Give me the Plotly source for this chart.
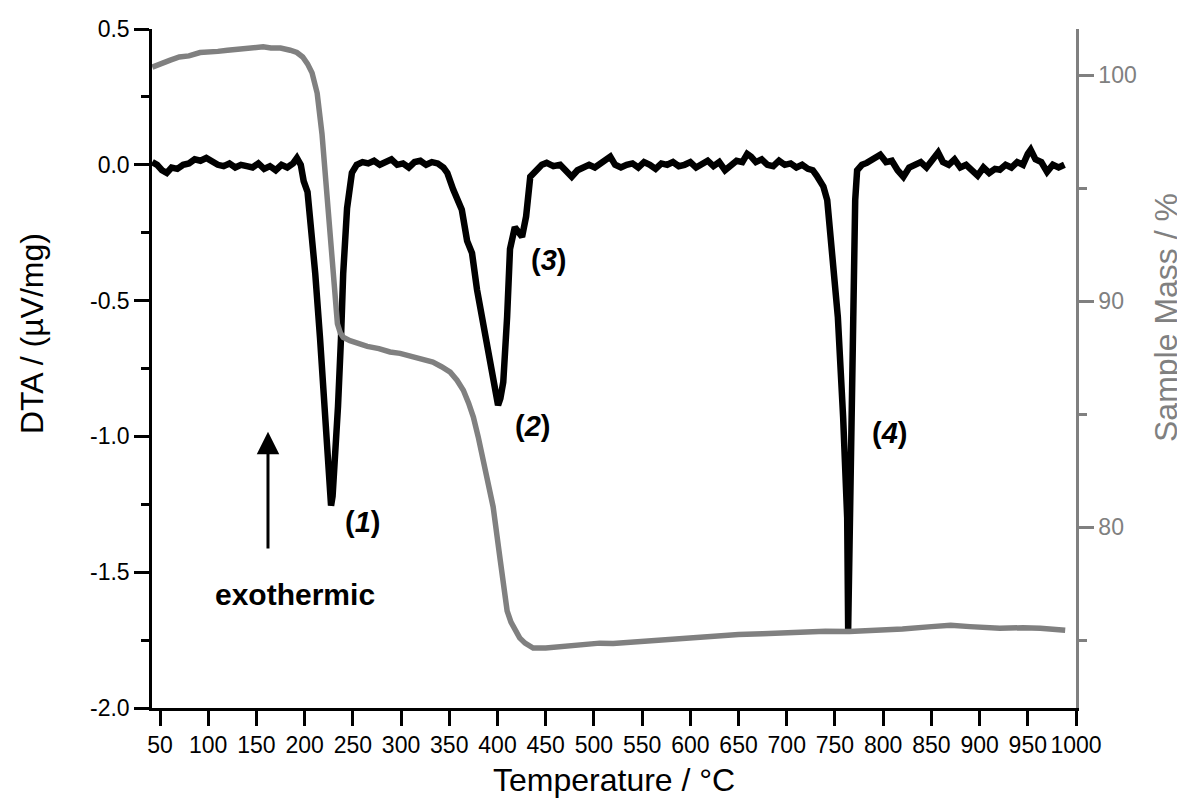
import plotly.graph_objects as go

# ---- DTA curve (black) ----
dta_temp = [42, 47, 52, 57, 62, 68, 74, 80, 86, 92, 98, 104, 110, 116, 122, 128, 134, 140, 146, 152,
            158, 164, 170, 176, 182, 188, 192, 196, 199, 203, 206, 211, 216, 221, 224, 226, 227.4, 229,
            231.5, 234.6, 237.7, 240, 244, 249, 254, 260, 266, 272, 278, 284, 290, 296, 302, 308, 314,
            320, 326, 332, 338, 344, 348, 354, 358, 363, 368.5, 373.6, 378.8, 387, 394, 398, 400.6, 403,
            406, 410, 413, 418, 422, 425.5, 429.7, 432, 434, 441, 446, 451, 458, 465, 471, 477, 483, 489,
            495, 501, 507, 513, 517, 522, 528, 534, 540, 546, 552, 558, 564, 570, 576, 582, 588, 594,
            600, 606, 612, 618, 624, 630, 636, 642, 648, 654, 659, 663, 668, 674, 680, 686, 692, 698,
            704, 710, 716, 722, 727, 731, 734.6, 738, 742, 747, 753, 758.5, 762.7, 763.7, 765.8, 768,
            769, 771, 773, 778, 783, 790, 797, 803, 809, 815, 821, 827, 833, 839, 845, 852, 857, 862,
            868, 874, 880, 886, 892, 898, 904, 910, 916, 921, 927, 933, 939, 945, 950, 953, 958, 964,
            970, 976, 982, 988]
dta_value = [0.01, 0.0, -0.02, -0.03, -0.01, -0.015, 0.0, 0.005, 0.02, 0.015, 0.025, 0.01, 0.0, -0.005,
             0.005, -0.01, 0.0, -0.005, -0.01, 0.005, -0.015, -0.005, -0.02, 0.0, -0.01, 0.005, 0.025,
             0.0, -0.06, -0.1, -0.21, -0.40, -0.64, -0.89, -1.10, -1.21, -1.255, -1.22, -1.10, -0.89, -0.64,
             -0.40, -0.16, -0.03, 0.0, 0.01, 0.005, 0.015, 0.0, 0.01, 0.02, 0.0, 0.005, -0.01, 0.01,
             0.015, 0.0, 0.01, 0.005, -0.01, -0.03, -0.09, -0.12, -0.165, -0.28, -0.325, -0.46, -0.62,
             -0.74, -0.84, -0.885, -0.86, -0.80, -0.56, -0.31, -0.23, -0.245, -0.265, -0.19, -0.1,
             -0.044, -0.018, 0.0, 0.007, -0.005, 0.0, -0.02, -0.044, -0.02, -0.01, 0.0, -0.01, 0.005,
             0.015, 0.03, 0.0, -0.01, 0.0, 0.005, -0.01, 0.01, 0.0, -0.015, 0.005, 0.0, 0.01, -0.005,
             0.0, 0.01, -0.01, 0.0, 0.015, -0.005, 0.01, -0.02, 0.0, 0.015, 0.01, 0.04, 0.03, 0.01,
             0.02, 0.0, -0.005, 0.015, 0.0, 0.005, -0.01, 0.0, -0.015, -0.02, -0.04, -0.066, -0.08,
             -0.13, -0.31, -0.56, -0.93, -1.30, -1.71, -1.30, -0.93, -0.44, -0.13, -0.02, 0.0, 0.007,
             0.02, 0.037, 0.01, 0.015, -0.02, -0.044, -0.01, 0.0, 0.01, -0.01, 0.018, 0.045, 0.01, 0.0,
             0.02, -0.01, 0.0, -0.02, -0.04, -0.01, -0.03, -0.015, -0.018, 0.0, -0.01, 0.01, 0.0, 0.04,
             0.055, 0.02, 0.01, -0.026, 0.0, -0.01, 0.0]

# ---- Sample mass curve (grey) ----
mass_temp = [42, 50, 60, 70, 80, 91.5, 100, 110, 120, 130, 140, 150, 157, 165, 175, 185, 192, 198, 203,
             207.7, 213, 218, 222, 226.5, 231, 234, 237, 240, 247, 254, 265, 277, 288.6, 299, 310, 320,
             333, 342, 351, 358, 364.6, 370, 375, 380, 385, 390, 395.5, 403, 407, 410, 414, 418, 423,
             428.6, 437, 450, 460, 472, 490, 506, 520, 537.6, 555, 575, 590, 610, 630, 650, 675, 700,
             714, 740, 765, 790, 820, 850, 870, 890, 921, 945, 963, 988.8]
mass_value = [100.35, 100.5, 100.65, 100.8, 100.85, 101.0, 101.0, 101.05, 101.1, 101.15, 101.2, 101.2,
              101.25, 101.2, 101.2, 101.1, 101.0, 100.8, 100.5, 100.1, 99.2, 97.4, 95.2, 93.4, 90.6,
              89.0, 88.6, 88.4, 88.25, 88.14, 88.0, 87.9, 87.75, 87.69, 87.55, 87.42, 87.3, 87.1, 86.86,
              86.5, 86.06, 85.5, 84.87, 84.0, 82.96, 81.9, 80.9, 78.5, 77.1, 76.3, 75.8, 75.44, 75.1,
              74.87, 74.65, 74.65, 74.7, 74.7, 74.8, 74.87, 74.85, 74.9, 74.95, 75.05, 75.1, 75.13,
              75.2, 75.25, 75.28, 75.33, 75.35, 75.4, 75.38, 75.42, 75.5, 75.6, 75.66, 75.6, 75.53,
              75.55, 75.53, 75.44]

x_ticks = list(range(50, 1001, 50))
y_ticks = [-2.0, -1.5, -1.0, -0.5, 0.0, 0.5]
y_ticktext = ["-2.0", "-1.5", "-1.0", "-0.5", "0.0", "0.5"]
y_minor = [-1.75, -1.25, -0.75, -0.25, 0.25]
y2_ticks = [80, 90, 100]
y2_minor = [75, 85, 95]

peak_labels = ["<b>(<i>1</i>)</b>", "<b>(<i>2</i>)</b>", "<b>(<i>3</i>)</b>", "<b>(<i>4</i>)</b>"]
peak_label_x = [259.5, 436, 452.5, 807]
peak_label_y = [-1.315, -0.96, -0.35, -0.987]

FONT = "Liberation Sans, Arial, sans-serif"
GREY = "#808080"
TICK = 23

fig = go.Figure()
fig.add_trace(go.Scatter(x=dta_temp, y=dta_value, mode="lines",
                         line=dict(color="black", width=6.5), yaxis="y", showlegend=False))
fig.add_trace(go.Scatter(x=mass_temp, y=mass_value, mode="lines",
                         line=dict(color=GREY, width=5.5), yaxis="y2", showlegend=False))

# The page body has an 8px margin, so the figure is placed at (8, 8).
OFF = 8
W, H = 1185 - OFF, 799 - OFF
# target plot area in page pixels: x 152..1076, y 29..708
L, T = 152 - OFF, 29 - OFF
pw, ph = 1076 - 152, 708 - 29
R = W - L - pw
B = H - T - ph

def px(xp):
    return (xp - 152) / pw

def py(yp):
    return (708 - yp) / ph

annotations = []
for txt, xx, yy in zip(peak_labels, peak_label_x, peak_label_y):
    annotations.append(dict(x=xx, y=yy, xref="x", yref="y", text=txt, showarrow=False,
                            font=dict(family=FONT, size=29, color="black")))
annotations.append(dict(x=190, y=-1.583, xref="x", yref="y", text="<b>exothermic</b>", showarrow=False,
                        font=dict(family=FONT, size=30, color="black")))
annotations.append(dict(x=162, y=-0.983, ax=162, ay=-1.418, xref="x", yref="y", axref="x", ayref="y",
                        text="", showarrow=True, arrowhead=2, arrowsize=1.5, arrowwidth=3,
                        arrowcolor="black", standoff=0))
annotations.append(dict(x=px(32), y=py(334), xref="paper", yref="paper", text="DTA / (µV/mg)",
                        textangle=-90, showarrow=False, xanchor="center", yanchor="middle",
                        font=dict(family=FONT, size=32, color="black")))
annotations.append(dict(x=px(1166), y=py(318), xref="paper", yref="paper", text="Sample Mass / %",
                        textangle=-90, showarrow=False, xanchor="center", yanchor="middle",
                        font=dict(family=FONT, size=32, color=GREY)))
annotations.append(dict(x=px(614), y=py(780), xref="paper", yref="paper", text="Temperature / °C",
                        showarrow=False, xanchor="center", yanchor="middle",
                        font=dict(family=FONT, size=32, color="black")))

fig.update_layout(
    width=W, height=H,
    margin=dict(l=L, r=R, t=T, b=B, pad=0, autoexpand=False),
    paper_bgcolor="white", plot_bgcolor="white",
    font=dict(family=FONT, size=TICK, color="black"),
    xaxis=dict(range=[41.7, 1000], tickmode="array", tickvals=x_ticks, tickangle=0, automargin=False,
               ticks="outside", ticklen=15, tickwidth=2.5, tickcolor="black",
               showline=True, linewidth=2.5, linecolor="black", showgrid=False, zeroline=False,
               tickfont=dict(family=FONT, size=TICK, color="black")),
    yaxis=dict(range=[-2.0, 0.5], tickmode="array", tickvals=y_ticks, ticktext=y_ticktext,
               automargin=False,
               ticks="outside", ticklen=15, tickwidth=2.5, tickcolor="black",
               minor=dict(tickmode="array", tickvals=y_minor, ticks="outside", ticklen=8,
                          tickwidth=2.5, tickcolor="black", showgrid=False),
               showline=True, linewidth=2.5, linecolor="black", showgrid=False, zeroline=False,
               tickfont=dict(family=FONT, size=TICK, color="black")),
    yaxis2=dict(range=[72, 102.04], overlaying="y", side="right", anchor="x", automargin=False,
                tickmode="array", tickvals=y2_ticks,
                ticks="outside", ticklen=15, tickwidth=2.5, tickcolor=GREY,
                minor=dict(tickmode="array", tickvals=y2_minor, ticks="outside", ticklen=8,
                           tickwidth=2.5, tickcolor=GREY, showgrid=False),
                showline=True, linewidth=2.5, linecolor=GREY, showgrid=False, zeroline=False,
                tickfont=dict(family=FONT, size=TICK, color=GREY)),
    annotations=annotations,
)

fig.write_html("out.html")
